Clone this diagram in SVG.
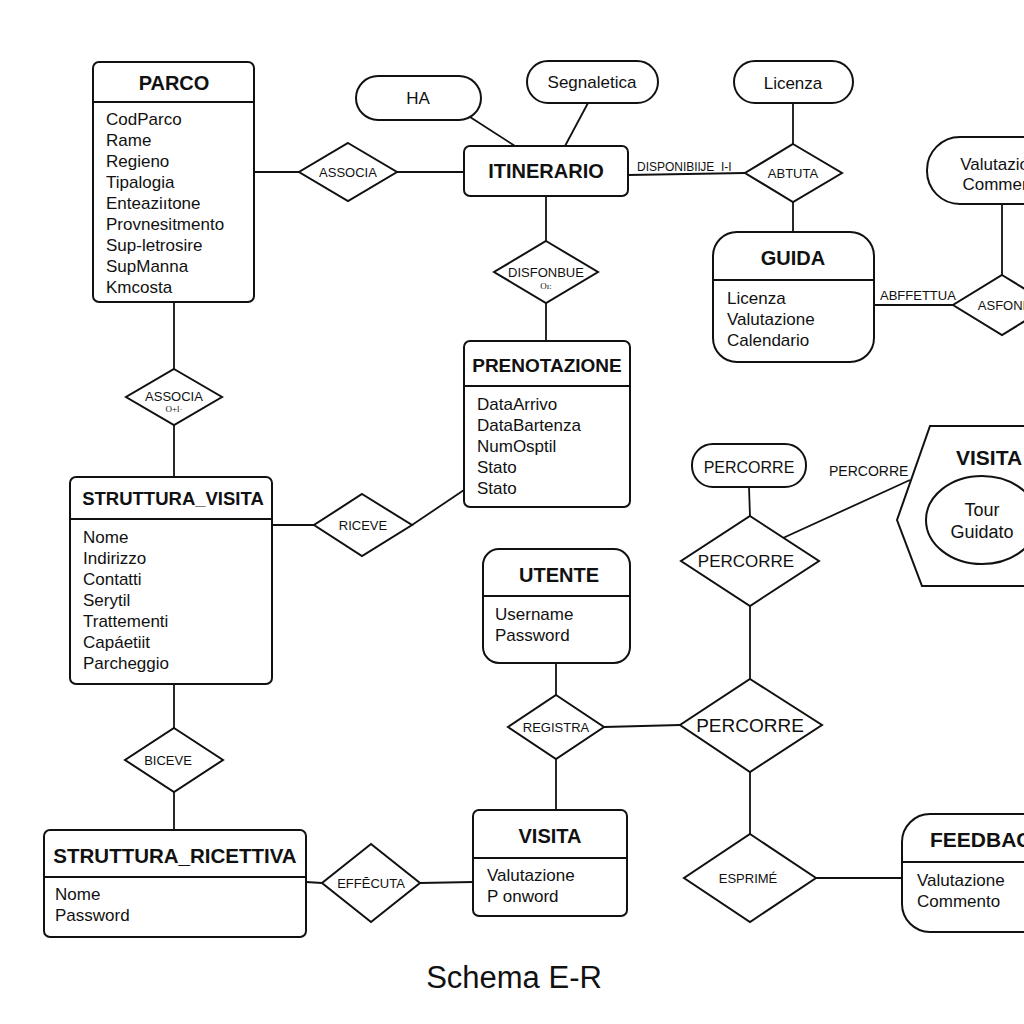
<svg xmlns="http://www.w3.org/2000/svg" width="1024" height="1024" viewBox="0 0 1024 1024">
<style>
.b{fill:#fff;stroke:#111;stroke-width:2}
.l{stroke:#111;stroke-width:1.8;fill:none}
text{font-family:"Liberation Sans",Arial,sans-serif;fill:#111}
.t{font-size:20px;font-weight:bold;text-anchor:middle}
.a{font-size:17px}
.d{font-size:13px;text-anchor:middle}
.s{font-size:9px;text-anchor:middle;font-family:"Liberation Serif",serif}
.p{font-size:17px;text-anchor:middle}
</style>
<rect width="1024" height="1024" fill="#fff"/>
<g id="connectors">
<line class="l" x1="254" y1="172" x2="299" y2="172"/>
<line class="l" x1="397" y1="172" x2="464" y2="172"/>
<line class="l" x1="470" y1="117" x2="515" y2="146"/>
<line class="l" x1="588" y1="103" x2="565" y2="146"/>
<line class="l" x1="628" y1="175" x2="745" y2="173"/>
<line class="l" x1="793" y1="103" x2="793" y2="144"/>
<line class="l" x1="793" y1="202" x2="793" y2="232"/>
<line class="l" x1="874" y1="305" x2="953" y2="305"/>
<line class="l" x1="1002" y1="204" x2="1002" y2="275"/>
<line class="l" x1="546" y1="196" x2="546" y2="241"/>
<line class="l" x1="546" y1="303" x2="546" y2="341"/>
<line class="l" x1="174" y1="302" x2="174" y2="369"/>
<line class="l" x1="174" y1="425" x2="174" y2="477"/>
<line class="l" x1="272" y1="525" x2="314" y2="525"/>
<line class="l" x1="412" y1="525" x2="464" y2="490"/>
<line class="l" x1="174" y1="684" x2="174" y2="728"/>
<line class="l" x1="174" y1="792" x2="174" y2="830"/>
<line class="l" x1="306" y1="882" x2="322" y2="883"/>
<line class="l" x1="420" y1="883" x2="473" y2="882"/>
<line class="l" x1="556" y1="663" x2="556" y2="695"/>
<line class="l" x1="556" y1="759" x2="556" y2="810"/>
<line class="l" x1="604" y1="727" x2="680" y2="725"/>
<line class="l" x1="749" y1="487" x2="750" y2="516"/>
<line class="l" x1="750" y1="606" x2="750" y2="679"/>
<line class="l" x1="783" y1="538" x2="910" y2="480"/>
<line class="l" x1="750" y1="772" x2="750" y2="834"/>
<line class="l" x1="816" y1="878" x2="902" y2="878"/>
<text x="637" y="171" style="font-size:12px">DISPONIBIlJE_I-I</text>
<text x="880" y="300" style="font-size:13px">ABFFETTUA</text>
<text x="829" y="476" style="font-size:14px">PERCORRE</text>
</g>
<g id="parco">
<rect class="b" x="93" y="62" width="161" height="240" rx="6"/>
<line class="l" x1="93" y1="102" x2="254" y2="102"/>
<text class="t" x="174" y="90">PARCO</text>
<text class="a" x="106" y="125">CodParco</text>
<text class="a" x="106" y="146">Rame</text>
<text class="a" x="106" y="167">Regieno</text>
<text class="a" x="106" y="188">Tipalogia</text>
<text class="a" x="106" y="209">Enteaziıtone</text>
<text class="a" x="106" y="230">Provnesitmento</text>
<text class="a" x="106" y="251">Sup-letrosire</text>
<text class="a" x="106" y="272">SupManna</text>
<text class="a" x="106" y="293">Kmcosta</text>
</g>
<g id="ha"><rect class="b" x="356" y="76" width="125" height="44" rx="22"/><text class="p" x="418" y="104">HA</text></g>
<g id="segnaletica"><rect class="b" x="527" y="61" width="131" height="42" rx="21"/><text class="p" x="592" y="88">Segnaletica</text></g>
<g id="licenza"><rect class="b" x="734" y="61" width="119" height="42" rx="21"/><text class="p" x="793" y="89">Licenza</text></g>
<g id="associa1"><polygon class="b" points="348,143 397,172 348,201 299,172"/><text class="d" x="348" y="177">ASSOCIA</text></g>
<g id="itinerario">
<rect class="b" x="464" y="146" width="164" height="50" rx="6"/>
<text class="t" x="546" y="178">ITINERARIO</text>
</g>
<g id="abtuta"><polygon class="b" points="793,144 842,173 793,202 745,173"/><text class="d" x="793" y="178">ABTUTA</text></g>
<g id="guida">
<rect class="b" x="713" y="232" width="161" height="130" rx="24"/>
<line class="l" x1="713" y1="280" x2="874" y2="280"/>
<text class="t" x="793" y="265">GUIDA</text>
<text class="a" x="727" y="304">Licenza</text>
<text class="a" x="727" y="325">Valutazione</text>
<text class="a" x="727" y="346">Calendario</text>
</g>
<g id="valutazione-commento">
<rect class="b" x="927" y="137" width="150" height="67" rx="33"/>
<text class="p" x="1004" y="170">Valutazione</text>
<text class="p" x="1004" y="190">Commento</text>
</g>
<g id="asfoni"><polygon class="b" points="1002,275 1051,305 1002,335 953,305"/><text class="d" x="1002" y="310">ASFONI</text></g>
<g id="disfonbue"><polygon class="b" points="546,241 598,272 546,303 494,272"/><text class="d" x="546" y="277">DISFONBUE</text><text class="s" x="546" y="289">Oı:</text></g>
<g id="prenotazione">
<rect class="b" x="464" y="341" width="166" height="166" rx="6"/>
<line class="l" x1="464" y1="386" x2="630" y2="386"/>
<text class="t" x="547" y="372" style="font-size:19px">PRENOTAZIONE</text>
<text class="a" x="477" y="410">DataArrivo</text>
<text class="a" x="477" y="431">DataBartenza</text>
<text class="a" x="477" y="452">NumOsptil</text>
<text class="a" x="477" y="473">Stato</text>
<text class="a" x="477" y="494">Stato</text>
</g>
<g id="associa2"><polygon class="b" points="174,369 222,397 174,425 126,397"/><text class="d" x="174" y="401">ASSOCIA</text><text class="s" x="174" y="412">O+l·</text></g>
<g id="struttura-visita">
<rect class="b" x="70" y="477" width="202" height="207" rx="6"/>
<line class="l" x1="70" y1="519" x2="272" y2="519"/>
<text class="t" x="173" y="505" style="font-size:18.5px">STRUTTURA_VISITA</text>
<text class="a" x="83" y="543">Nome</text>
<text class="a" x="83" y="564">Indirizzo</text>
<text class="a" x="83" y="585">Contatti</text>
<text class="a" x="83" y="606">Serytil</text>
<text class="a" x="83" y="627">Trattementi</text>
<text class="a" x="83" y="648">Capáetiit</text>
<text class="a" x="83" y="669">Parcheggio</text>
</g>
<g id="riceve"><polygon class="b" points="362,494 412,525 362,556 314,525"/><text class="d" x="363" y="530">RICEVE</text></g>
<g id="biceve"><polygon class="b" points="174,728 223,760 174,792 125,760"/><text class="d" x="168" y="765">BICEVE</text></g>
<g id="struttura-ricettiva">
<rect class="b" x="44" y="830" width="262" height="107" rx="6"/>
<line class="l" x1="44" y1="877" x2="306" y2="877"/>
<text class="t" x="175" y="863" style="font-size:20.5px">STRUTTURA_RICETTIVA</text>
<text class="a" x="55" y="900">Nome</text>
<text class="a" x="55" y="921">Password</text>
</g>
<g id="effecuta"><polygon class="b" points="371,844 420,883 371,922 322,883"/><text class="d" x="371" y="888">EFFĒCUTA</text></g>
<g id="visita">
<rect class="b" x="473" y="810" width="154" height="106" rx="6"/>
<line class="l" x1="473" y1="858" x2="627" y2="858"/>
<text class="t" x="550" y="843">VISITA</text>
<text class="a" x="487" y="881">Valutazione</text>
<text class="a" x="487" y="902">P onword</text>
</g>
<g id="utente">
<rect class="b" x="483" y="549" width="147" height="114" rx="16"/>
<line class="l" x1="483" y1="596" x2="630" y2="596"/>
<text class="t" x="559" y="582">UTENTE</text>
<text class="a" x="495" y="620">Username</text>
<text class="a" x="495" y="641">Password</text>
</g>
<g id="registra"><polygon class="b" points="556,695 604,727 556,759 508,727"/><text class="d" x="556" y="732">REGISTRA</text></g>
<g id="percorre-pill"><rect class="b" x="692" y="444" width="114" height="43" rx="21"/><text class="p" x="749" y="473" style="font-size:16px">PERCORRE</text></g>
<g id="percorre-mid"><polygon class="b" points="750,516 819,561 750,606 681,561"/><text class="d" x="746" y="567" style="font-size:17px">PERCORRE</text></g>
<g id="percorre-low"><polygon class="b" points="750,679 822,725 750,772 680,725"/><text class="d" x="750" y="732" style="font-size:19px">PERCORRE</text></g>
<g id="visita-tour">
<polygon class="b" points="930,426 1030,426 1030,586 922,586 897,520"/>
<text x="956" y="465" style="font-size:21px;font-weight:bold">VISITA</text>
<ellipse class="b" cx="982" cy="520" rx="56" ry="44"/>
<text class="p" x="982" y="516" style="font-size:18px">Tour</text>
<text class="p" x="982" y="538" style="font-size:18px">Guidato</text>
</g>
<g id="esprime"><polygon class="b" points="750,834 816,878 750,922 684,878"/><text class="d" x="748" y="883">ESPRIMÉ</text></g>
<g id="feedback">
<rect class="b" x="902" y="814" width="150" height="118" rx="28"/>
<line class="l" x1="902" y1="862" x2="1052" y2="862"/>
<text x="930" y="847" style="font-size:21px;font-weight:bold">FEEDBACK</text>
<text class="a" x="917" y="886">Valutazione</text>
<text class="a" x="917" y="907">Commento</text>
</g>
<text x="514" y="988" style="font-size:31px;text-anchor:middle">Schema E-R</text>
</svg>
